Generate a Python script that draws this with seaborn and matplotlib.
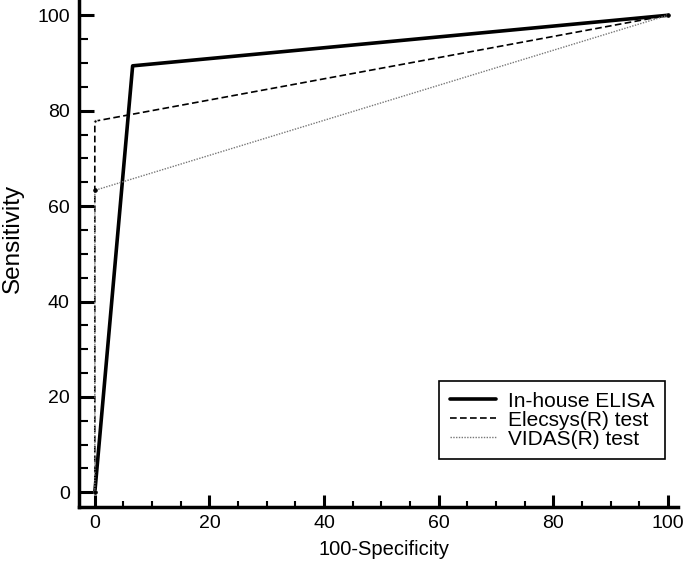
import pandas as pd
import seaborn as sns
import matplotlib.pyplot as plt
from matplotlib.ticker import MultipleLocator

# ROC points
fpr_inhouse = [0, 6.6, 100]
tpr_inhouse = [0, 89.4, 100]
fpr_elecsys = [0, 0, 100]
tpr_elecsys = [0, 77.8, 100]
fpr_vidas = [0, 0, 100]
tpr_vidas = [0, 63.3, 100]
labels = ['In-house ELISA', 'Elecsys(R) test', 'VIDAS(R) test']

sns.set_style('ticks')
plt.rcParams['font.family'] = ['Liberation Sans', 'DejaVu Sans']
plt.rcParams['text.color'] = 'black'
plt.rcParams['axes.labelcolor'] = 'black'
plt.rcParams['xtick.color'] = 'black'
plt.rcParams['ytick.color'] = 'black'
plt.rcParams['axes.edgecolor'] = 'black'

fig = plt.figure(figsize=(6.85, 5.61), dpi=100)
ax = fig.add_axes([0.115, 0.096, 0.875, 0.904])

styles = [dict(color='black', lw=2.6, ls='-'),
          dict(color='black', lw=1.2, ls=(0, (4, 2)), marker='o', ms=2.5),
          dict(color='#777777', lw=1.0, ls=(0, (1, 1)), marker='o', ms=2.5,
               mfc='black', mec='black')]
for xs, ys, lab, st in zip([fpr_inhouse, fpr_elecsys, fpr_vidas],
                           [tpr_inhouse, tpr_elecsys, tpr_vidas], labels, styles):
    df = pd.DataFrame({'x': xs, 'y': ys})
    sns.lineplot(data=df, x='x', y='y', ax=ax, label=lab, sort=False,
                 estimator=None, **st)

ax.set_xlim(-2.8, 101.8)
ax.set_ylim(-3.1, 103.2)
ax.xaxis.set_major_locator(MultipleLocator(20))
ax.xaxis.set_minor_locator(MultipleLocator(5))
ax.yaxis.set_major_locator(MultipleLocator(20))
ax.yaxis.set_minor_locator(MultipleLocator(5))
ax.tick_params(which='major', direction='in', width=2.2, labelsize=14)
ax.tick_params(which='minor', direction='in', width=1.5)
ax.tick_params(axis='x', which='major', length=9, pad=6)
ax.tick_params(axis='x', which='minor', length=4.5)
ax.tick_params(axis='y', which='major', length=11, pad=6.5)
ax.tick_params(axis='y', which='minor', length=6.5)
for s in ['top', 'right']:
    ax.spines[s].set_visible(False)
for s in ['left', 'bottom']:
    ax.spines[s].set_linewidth(2.5)

ax.set_xlabel('100-Specificity', fontsize=14.5, labelpad=6)
ax.set_ylabel('Sensitivity', fontsize=17.5)
ax.xaxis.set_label_coords(0.51, -0.065)
ax.yaxis.set_label_coords(-0.092, 0.53)

leg = ax.legend(loc='lower right', bbox_to_anchor=(0.978, 0.095), fontsize=15,
                frameon=True, fancybox=False, edgecolor='black', framealpha=1,
                handlelength=2.2, handletextpad=0.6, borderpad=0.5,
                labelspacing=0.0, borderaxespad=0)
leg.get_frame().set_linewidth(1.2)
for h in leg.get_lines():
    h.set_marker('')

fig.savefig('out.png', dpi=100)
